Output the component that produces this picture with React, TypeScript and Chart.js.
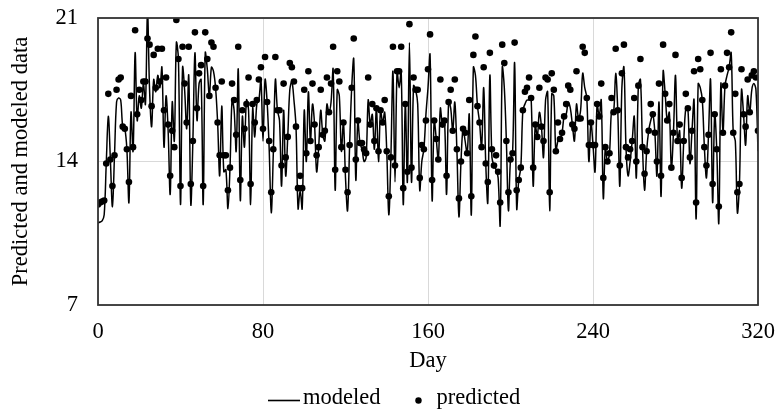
import React, { useEffect, useRef } from 'react';
import { Chart, registerables } from 'chart.js';

Chart.register(...registerables);

// ---- data (one value per day, day = index) ----
const modeled: number[] = [
  11.0, 11.05, 11.1, 11.4, 13.9, 16.2, 14.1, 11.8, 14.3, 16.9,
  17.1, 17.0, 15.7, 15.6, 14.6, 12.0, 16.4, 14.5, 19.3, 16.0,
  17.2, 16.6, 17.8, 16.8, 21.3, 17.5, 15.7, 18.0, 17.4, 18.2,
  17.6, 18.6, 14.7, 17.2, 15.5, 12.4, 16.9, 15.0, 19.8, 19.0,
  11.9, 18.6, 17.5, 15.6, 18.2, 11.9, 15.0, 19.3, 16.0, 17.8,
  18.0, 11.9, 19.3, 18.5, 17.2, 18.6, 18.4, 17.6, 15.9, 13.3,
  16.7, 13.5, 13.6, 11.7, 13.7, 17.0, 16.5, 14.5, 18.5, 12.1,
  16.2, 14.7, 17.0, 16.5, 11.9, 16.6, 15.2, 16.8, 17.0, 18.0,
  15.0, 18.0, 16.9, 14.6, 11.5, 14.4, 18.0, 16.5, 16.0, 12.8,
  16.5, 13.3, 15.2, 17.5, 17.9, 17.0, 15.7, 11.7, 12.6, 11.7,
  16.5, 14.0, 17.4, 15.0, 16.8, 15.8, 13.5, 14.7, 16.5, 15.3,
  15.0, 16.8, 16.4, 16.9, 18.5, 12.6, 17.5, 17.2, 14.5, 15.9,
  13.2, 11.6, 14.8, 17.6, 19.0, 13.1, 16.0, 14.9, 14.6, 14.0,
  14.2, 17.0, 15.8, 16.3, 14.6, 16.6, 14.0, 16.5, 15.9, 16.4,
  14.5, 11.4, 14.2, 18.4, 13.0, 18.4, 17.6, 18.4, 11.9, 16.8,
  13.0, 19.8, 13.0, 17.7, 17.5, 16.8, 12.6, 14.0, 14.6, 16.3,
  17.6, 19.2, 12.1, 16.0, 15.1, 14.1, 16.6, 15.8, 16.0, 12.4,
  16.9, 16.6, 15.5, 16.9, 14.6, 11.3, 14.0, 15.6, 15.0, 14.4,
  16.3, 11.4, 18.6, 18.2, 16.7, 15.9, 14.7, 17.6, 13.9, 12.0,
  18.2, 14.2, 13.8, 13.6, 13.2, 10.9, 18.6, 17.6, 15.0, 11.6,
  14.1, 14.4, 18.8, 11.7, 13.1, 13.7, 16.5, 16.8, 17.0, 17.0,
  17.1, 12.8, 15.8, 15.2, 16.4, 15.7, 14.2, 17.0, 17.4, 11.6,
  17.3, 17.2, 14.5, 15.0, 15.1, 15.4, 16.2, 16.3, 16.9, 16.6,
  15.8, 15.0, 16.8, 16.1, 16.5, 18.3, 17.6, 17.1, 14.0, 15.9,
  14.8, 13.5, 16.8, 16.2, 17.0, 12.2, 14.7, 14.0, 14.4, 16.5,
  16.4, 18.3, 16.5, 12.8, 17.6, 18.6, 14.7, 13.3, 14.0, 15.0,
  16.2, 13.2, 17.7, 18.0, 14.7, 12.6, 14.5, 15.5, 16.0, 16.3,
  15.4, 13.3, 16.9, 12.3, 18.4, 17.3, 16.0, 16.4, 13.7, 15.4,
  18.2, 15.0, 15.5, 12.7, 15.0, 16.6, 16.6, 13.9, 15.5, 17.0,
  11.2, 17.8, 17.6, 17.0, 14.7, 13.2, 15.3, 18.0, 12.0, 16.3,
  14.6, 11.0, 17.8, 15.4, 17.7, 18.2, 18.6, 19.3, 15.4, 15.0,
  11.5, 12.9, 17.5, 16.3, 14.8, 17.2, 16.4, 17.5, 17.8, 17.5,
  14.5,
];

const predicted: number[] = [
  11.9, 12.0, 12.05, 12.1, 13.9, 17.3, 14.1, 12.8, 14.3, 17.5,
  18.0, 18.1, 15.7, 15.6, 14.6, 13.0, 17.2, 14.7, 20.4, 16.3,
  17.5, 17.0, 17.9, 17.9, 20.0, 19.7, 16.7, 19.2, 17.6, 19.5,
  17.9, 19.5, 16.5, 18.1, 15.8, 13.3, 15.5, 14.7, 20.9, 19.0,
  12.8, 19.6, 17.8, 15.9, 19.6, 12.9, 15.0, 20.3, 16.6, 18.3,
  18.7, 12.8, 20.3, 19.0, 17.2, 19.8, 19.6, 17.6, 15.9, 14.3,
  17.9, 14.3, 14.3, 12.6, 13.7, 17.8, 17.0, 15.3, 19.6, 13.1,
  16.5, 15.6, 16.8, 18.1, 12.9, 16.8, 15.9, 17.0, 18.0, 18.6,
  15.6, 19.1, 16.9, 15.0, 12.5, 14.6, 19.1, 16.5, 16.5, 13.8,
  17.8, 14.2, 15.2, 18.8, 18.6, 17.9, 15.7, 12.7, 13.3, 12.7,
  17.5, 14.4, 18.4, 15.0, 17.8, 15.8, 14.3, 14.7, 17.5, 15.3,
  15.5, 18.1, 16.4, 17.8, 19.6, 13.6, 18.4, 17.9, 14.7, 15.9,
  13.6, 12.5, 14.8, 17.6, 20.0, 14.1, 16.0, 14.9, 14.9, 14.6,
  14.4, 18.1, 15.8, 16.8, 15.0, 16.6, 14.5, 16.5, 15.9, 17.0,
  14.5, 12.3, 14.2, 19.6, 13.8, 18.4, 18.4, 19.6, 12.7, 16.8,
  13.5, 20.7, 13.7, 18.1, 17.5, 17.5, 13.2, 14.8, 14.6, 16.0,
  18.5, 20.2, 13.1, 16.0, 15.1, 14.1, 18.0, 15.8, 16.0, 13.3,
  16.9, 17.5, 15.5, 18.0, 14.6, 12.2, 14.0, 15.6, 15.4, 14.4,
  17.0, 12.3, 19.2, 20.1, 16.7, 15.9, 14.7, 18.6, 13.9, 13.0,
  19.3, 14.6, 13.8, 14.3, 13.5, 12.0, 19.7, 18.8, 15.0, 12.5,
  14.1, 14.4, 19.8, 12.6, 13.1, 13.7, 16.5, 17.4, 17.6, 18.1,
  17.1, 13.7, 15.8, 15.2, 17.6, 15.7, 15.0, 18.1, 18.0, 12.5,
  18.3, 17.5, 14.5, 15.9, 15.1, 15.4, 16.2, 16.8, 17.7, 17.5,
  15.8, 15.6, 18.4, 16.1, 16.1, 19.6, 19.3, 17.1, 14.8, 15.9,
  14.8, 14.8, 16.8, 16.2, 17.8, 13.2, 14.7, 14.0, 14.4, 17.1,
  16.4, 19.5, 16.5, 13.8, 18.3, 19.7, 14.7, 14.2, 14.6, 15.0,
  17.1, 14.0, 17.7, 19.0, 14.7, 13.4, 14.5, 15.5, 16.8, 16.3,
  15.4, 14.0, 17.8, 13.3, 19.7, 17.3, 16.0, 16.8, 13.7, 15.4,
  19.2, 15.0, 15.8, 13.2, 15.0, 17.3, 16.6, 14.2, 15.5, 18.4,
  12.0, 19.0, 18.5, 17.0, 14.7, 13.8, 15.3, 19.3, 12.9, 16.3,
  14.6, 11.8, 18.5, 15.4, 17.7, 19.3, 18.6, 20.3, 15.4, 17.3,
  12.5, 12.9, 18.5, 16.3, 15.7, 18.0, 16.4, 18.2, 18.4, 18.1,
  15.5,
];

const xTicks: number[] = [0, 80, 160, 240, 320];
const yTicks: number[] = [7, 14, 21];
const seriesNames: string[] = ['modeled', 'predicted'];
const xTitle = 'Day';
const yTitle = 'Predicted and modeled data';

const FONT = "'Liberation Serif', 'Times New Roman', serif";
const FS = 22.5;

export default function App() {
  const ref = useRef<HTMLCanvasElement>(null);

  useEffect(() => {
    document.body.style.margin = '0';
    const canvas = ref.current;
    if (!canvas) return;

    const framePlugin = {
      id: 'frame',
      afterDatasetsDraw(chart: any) {
        const { ctx, chartArea: a } = chart;
        ctx.save();
        ctx.strokeStyle = '#333';
        ctx.lineWidth = 1.8;
        ctx.strokeRect(a.left, a.top, a.right - a.left, a.bottom - a.top);
        ctx.restore();
      },
    };

    const legendPlugin = {
      id: 'bottomLegend',
      afterDraw(chart: any) {
        const ctx = chart.ctx;
        ctx.save();
        ctx.font = `${FS}px ${FONT}`;
        ctx.fillStyle = '#000';
        ctx.textBaseline = 'middle';
        const y = chart.height - 11;
        const markY = y + 2.5;
        const lineLen = 32, gap1 = 3, itemGap = 38, dotGap = 18;
        const w1 = ctx.measureText(seriesNames[0]).width;
        let x = 268;
        ctx.strokeStyle = '#000';
        ctx.lineWidth = 1.6;
        ctx.beginPath();
        ctx.moveTo(x, markY);
        ctx.lineTo(x + lineLen, markY);
        ctx.stroke();
        x += lineLen + gap1;
        ctx.fillText(seriesNames[0], x, y);
        x += w1 + itemGap;
        ctx.beginPath();
        ctx.arc(x, markY, 3.2, 0, Math.PI * 2);
        ctx.fill();
        x += dotGap;
        ctx.fillText(seriesNames[1], x, y);
        ctx.restore();
      },
    };

    const chart = new Chart(canvas, {
      type: 'line',
      data: {
        datasets: [
          {
            label: seriesNames[0],
            data: modeled.map((v, i) => ({ x: i, y: v })),
            borderColor: '#000',
            backgroundColor: '#000',
            borderWidth: 1.5,
            pointRadius: 0,
            tension: 0.35,
            fill: false,
          },
          {
            label: seriesNames[1],
            data: predicted.map((v, i) => ({ x: i, y: v })),
            showLine: false,
            borderColor: '#000',
            backgroundColor: '#000',
            pointBackgroundColor: '#000',
            pointBorderWidth: 0,
            pointRadius: 3.3,
          },
        ],
      },
      options: {
        responsive: false,
        animation: false,
        layout: { padding: { left: 0, right: 20, top: 18, bottom: 34 }, autoPadding: false },
        plugins: {
          legend: { display: false },
          tooltip: { enabled: false },
        },
        scales: {
          x: {
            type: 'linear',
            min: 0,
            max: 320,
            afterBuildTicks: (s: any) => {
              s.ticks = xTicks.map((v) => ({ value: v }));
            },
            afterFit: (s: any) => {
              s.height = 70;
              s.paddingLeft = 0;
              s.paddingRight = 0;
            },
            grid: { color: '#d9d9d9', drawTicks: false, lineWidth: 1 },
            border: { display: false },
            ticks: {
              color: '#000',
              font: { family: FONT, size: FS },
              padding: 14,
              maxRotation: 0,
            },
            title: {
              display: true,
              text: xTitle,
              color: '#000',
              font: { family: FONT, size: FS },
              padding: { top: 4, bottom: 0 },
            },
          },
          y: {
            type: 'linear',
            min: 7,
            max: 21,
            afterBuildTicks: (s: any) => {
              s.ticks = yTicks.map((v) => ({ value: v }));
            },
            afterFit: (s: any) => {
              s.width = 98;
              s.paddingTop = 0;
              s.paddingBottom = 0;
            },
            grid: { color: '#d9d9d9', drawTicks: false, lineWidth: 1 },
            border: { display: false },
            ticks: {
              color: '#000',
              font: { family: FONT, size: FS },
              padding: 20,
            },
            title: {
              display: true,
              text: yTitle,
              color: '#000',
              font: { family: FONT, size: FS },
              padding: { top: 8, bottom: 0 },
            },
          },
        },
      },
      plugins: [framePlugin, legendPlugin],
    });

    return () => chart.destroy();
  }, []);

  return (
    <div style={{ position: 'absolute', left: 0, top: 0, width: 778, height: 409, background: '#fff' }}>
      <canvas ref={ref} width={778} height={409} style={{ display: 'block' }} />
    </div>
  );
}
